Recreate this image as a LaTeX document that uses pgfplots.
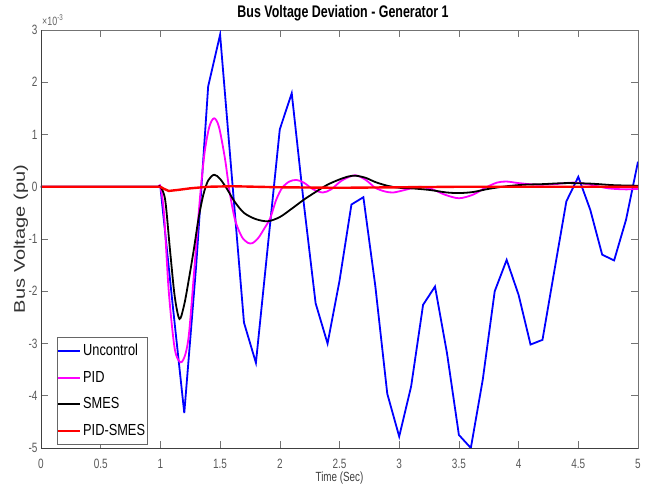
\documentclass[border=0pt]{standalone}
\usepackage{fontspec}
\setmainfont{Liberation Sans}[FakeStretch=0.74]
\newfontfamily\ylabfont{Liberation Sans}[FakeStretch=1.3]
\newfontfamily\legfont{Liberation Sans}[FakeStretch=0.8]
\usepackage{pgfplots}
\pgfplotsset{compat=1.18}
\definecolor{cblue}{RGB}{0,0,255}
\definecolor{cmag}{RGB}{255,0,255}
\definecolor{cred}{RGB}{255,0,0}
\begin{document}
\begin{tikzpicture}
\path[use as bounding box] (-41bp,-45bp) rectangle (608bp,448bp);
\begin{axis}[
  name=ax,
  at={(0,0)}, anchor=south west,
  scale only axis, width=597bp, height=418bp,
  xmin=0, xmax=5, ymin=-5, ymax=3,
  xtick={0,0.5,1,1.5,2,2.5,3,3.5,4,4.5,5},
  xticklabels={0,0.5,1,1.5,2,2.5,3,3.5,4,4.5,5},
  ytick={-5,-4,-3,-2,-1,0,1,2,3},
  yticklabels={-5,-4,-3,-2,-1,0,1,2,3},
  tick align=inside, major tick length=7bp,
  axis line style={black!55, line width=0.6pt},
  tick style={black!55, line width=0.6pt},
  /pgf/number format/assume math mode=true,
  ticklabel style={font=\fontsize{13.5bp}{16bp}\selectfont, text=black!65},
  xticklabel style={yshift=-8bp},
  title={Bus Voltage Deviation - Generator 1},
  title style={font=\fontsize{16.8bp}{20bp}\selectfont\bfseries, at={(axis description cs:0.506,1)}, anchor=base, yshift=7bp},
  xlabel={Time (Sec)},
  xlabel style={font=\fontsize{13.3bp}{16bp}\selectfont, text=black!75, at={(axis description cs:0.5,0)}, anchor=base, yshift=-33bp},
  ylabel={Bus Voltage (pu)},
  ylabel style={font=\ylabfont\fontsize{15.4bp}{18bp}\selectfont, text=black!80, at={(axis description cs:-0.0335,0.5)}, anchor=center},
  legend cell align=left,
  legend image code/.code={\draw[#1, line width=2bp] (0bp,0bp) -- (22bp,0bp);},
  legend style={at={(axis description cs:0.0268,0.2656)}, anchor=north west,
    draw=black!60, fill=white, inner xsep=0pt, inner ysep=5bp, row sep=10bp,
    font=\legfont\fontsize{16bp}{19bp}\selectfont},
]
\addplot[draw=cblue, line width=1.8bp] coordinates {
(0,0) (1.0,0) (1.1,-2.2) (1.2,-4.33) (1.3,-1.5) (1.4,1.92) (1.5,2.91)
(1.6,0.15) (1.7,-2.60) (1.8,-3.37) (1.9,-1.13) (2.0,1.10) (2.1,1.79)
(2.2,-0.3) (2.3,-2.23) (2.4,-3.0) (2.5,-1.8) (2.6,-0.34) (2.7,-0.20)
(2.8,-1.9) (2.9,-3.96) (3.0,-4.78) (3.1,-3.82) (3.2,-2.26) (3.3,-1.91)
(3.4,-3.18) (3.5,-4.75) (3.6,-5.0) (3.7,-3.69) (3.8,-2.0) (3.9,-1.40)
(4.0,-2.07) (4.1,-3.02) (4.2,-2.93) (4.3,-1.6) (4.4,-0.28) (4.5,0.19)
(4.6,-0.44) (4.7,-1.30) (4.8,-1.41) (4.9,-0.63) (5.0,0.48)
};
\addlegendentry{Uncontrol}
\addplot[draw=cmag, line width=1.8bp, smooth] coordinates {
(0,0) (0.5,0) (0.9,0) (0.98,0) (1.00,0) (1.03,-0.5) (1.07,-2.0) (1.12,-3.1) (1.17,-3.36) (1.21,-3.2)
(1.24,-2.8) (1.28,-1.7) (1.33,-0.25) (1.37,0.65) (1.41,1.15) (1.45,1.31)
(1.49,1.15) (1.54,0.55) (1.58,-0.1) (1.625,-0.63) (1.68,-0.95) (1.73,-1.07)
(1.77,-1.08) (1.82,-0.98) (1.87,-0.8) (1.92,-0.6) (1.97,-0.25) (2.02,-0.02)
(2.08,0.1) (2.14,0.13) (2.20,0.08) (2.28,-0.05) (2.36,-0.11) (2.43,-0.05)
(2.52,0.12) (2.63,0.22) (2.72,0.13) (2.80,-0.02) (2.88,-0.09) (2.95,-0.11)
(3.05,-0.06) (3.17,0.0) (3.28,-0.05) (3.38,-0.15) (3.50,-0.22) (3.62,-0.15)
(3.72,-0.02) (3.82,0.08) (3.90,0.10) (4.00,0.07) (4.15,0.04) (4.30,0.05)
(4.46,0.08) (4.60,0.04) (4.75,-0.03) (4.90,-0.05) (5.00,-0.04)
};
\addlegendentry{PID}
\addplot[draw=black, line width=1.8bp, smooth] coordinates {
(0,0) (0.5,0) (0.9,0) (0.98,0) (1.00,0) (1.04,-0.25) (1.08,-1.2) (1.12,-2.1) (1.16,-2.53) (1.20,-2.25)
(1.24,-1.75) (1.28,-1.2) (1.32,-0.6) (1.36,-0.15) (1.40,0.12) (1.45,0.23)
(1.50,0.15) (1.56,-0.05) (1.62,-0.28) (1.70,-0.5) (1.80,-0.62) (1.90,-0.66)
(2.00,-0.58) (2.10,-0.42) (2.20,-0.25) (2.30,-0.1) (2.40,0.04) (2.50,0.14)
(2.58,0.2) (2.64,0.21) (2.72,0.17) (2.80,0.09) (2.90,0.02) (3.00,-0.02)
(3.10,-0.03) (3.25,-0.06) (3.40,-0.11) (3.51,-0.12) (3.62,-0.10) (3.75,-0.04)
(3.90,0.01) (4.05,0.04) (4.20,0.05) (4.40,0.07) (4.60,0.06) (4.80,0.03) (5.00,0.02)
};
\addlegendentry{SMES}
\addplot[draw=cred, line width=2.4bp] coordinates {
(0,0) (1.00,0) (1.03,-0.04) (1.07,-0.08) (1.15,-0.06) (1.25,-0.03) (1.40,0.0)
(1.60,0.01) (1.80,0.0) (2.00,-0.01) (2.50,-0.02) (3.00,-0.01) (3.50,0.0)
(4.00,0.0) (4.50,0.0) (5.00,0.0)
};
\addlegendentry{PID-SMES}
\end{axis}
\draw[black!75, line width=0.6pt] (ax.north west) -- (ax.south west) -- (ax.south east);
\node[anchor=base west, inner sep=0pt, text=black!60, font=\fontsize{12bp}{14bp}\selectfont] at ([xshift=1bp, yshift=5bp]ax.north west) {×10\textsuperscript{-3}};
\end{tikzpicture}
\end{document}
